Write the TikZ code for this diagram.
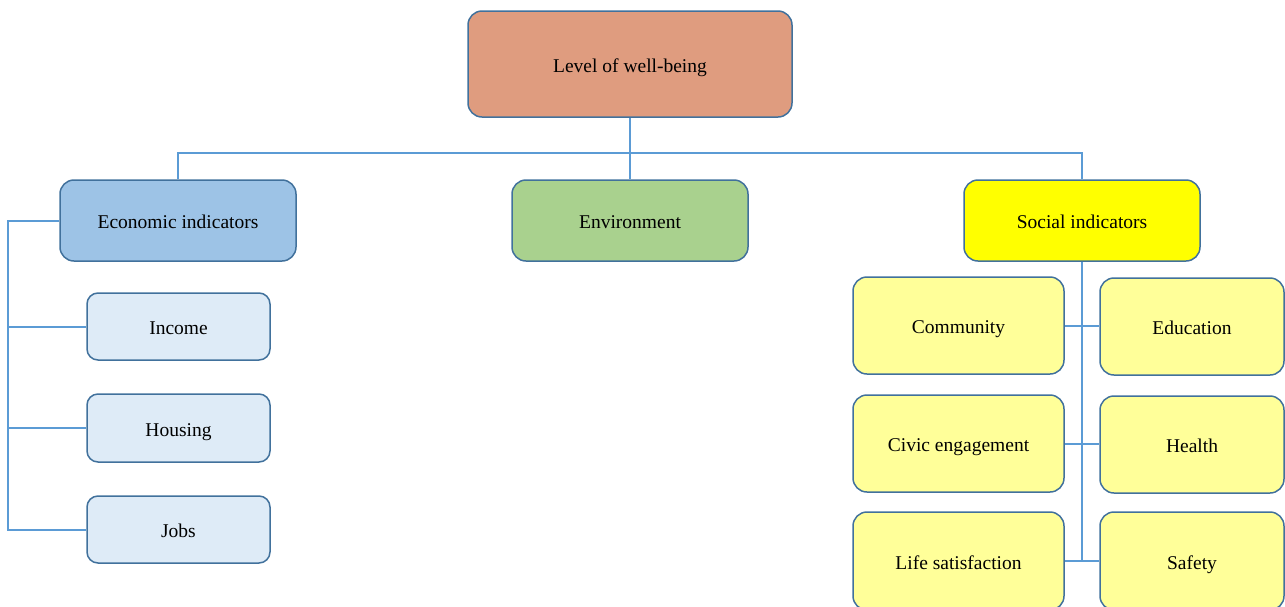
\documentclass[tikz,border=0pt]{standalone}
\usepackage{fontspec}
\setmainfont{Liberation Serif}
\definecolor{topc}{HTML}{DF9C7F}
\definecolor{econc}{HTML}{9DC3E6}
\definecolor{envc}{HTML}{A9D18E}
\definecolor{socc}{HTML}{FFFF00}
\definecolor{lblue}{HTML}{DEEBF7}
\definecolor{lyel}{HTML}{FFFF99}
\definecolor{bord}{HTML}{41719C}
\definecolor{conc}{HTML}{5B9BD5}
\tikzset{
  box/.style={draw=bord, line width=1.5pt, rounded corners=14pt, inner sep=0pt,
    text height=16pt, text depth=0pt,
    font=\fontsize{19.5}{23}\selectfont, text=black},
  smallbox/.style={box, rounded corners=11pt},
  conn/.style={draw=conc, line width=2pt}
}
\begin{document}
\begin{tikzpicture}[x=1pt,y=-1pt]
\useasboundingbox (0,0) rectangle (1285,606);
\clip (0,0) rectangle (1285,606);
% connectors
\coordinate (bus) at (630,153);
\coordinate (lx) at (8,0);
% top level
\node[box, fill=topc, minimum width=324pt, minimum height=106pt] (top) at (630,64) {Level of well-being};
% second level
\node[box, fill=econc, minimum width=236pt, minimum height=81pt] (econ) at (178,220.5) {Economic indicators};
\node[box, fill=envc, minimum width=236pt, minimum height=81pt] (env) at (630,220.5) {Environment};
\node[box, fill=socc, minimum width=236pt, minimum height=81pt] (soc) at (1082,220.5) {Social indicators};
% economic children
\node[smallbox, fill=lblue, minimum width=183pt, minimum height=67pt] (income) at (178.5,326.5) {Income};
\node[smallbox, fill=lblue, minimum width=183pt, minimum height=68pt] (housing) at (178.5,428) {Housing};
\node[smallbox, fill=lblue, minimum width=183pt, minimum height=67pt] (jobs) at (178.5,529.5) {Jobs};
% social children
\node[box, fill=lyel, minimum width=211pt, minimum height=97pt] (comm) at (958.5,325.5) {Community};
\node[box, fill=lyel, minimum width=184pt, minimum height=97pt] (edu) at (1192,326.5) {Education};
\node[box, fill=lyel, minimum width=211pt, minimum height=97pt] (civic) at (958.5,443.5) {Civic engagement};
\node[box, fill=lyel, minimum width=184pt, minimum height=97pt] (health) at (1192,444.5) {Health};
\node[box, fill=lyel, minimum width=211pt, minimum height=98pt] (life) at (958.5,561) {Life satisfaction};
\node[box, fill=lyel, minimum width=184pt, minimum height=98pt] (safety) at (1192,561) {Safety};
\draw[conn] (top.south) -- (env.north);
\draw[conn] (econ.north) -- (econ.north |- bus) -- (soc.north |- bus) -- (soc.north);
\draw[conn] (econ.west) -- (lx |- econ.west) -- (lx |- jobs.west) -- (jobs.west);
\draw[conn] (lx |- income.west) -- (income.west);
\draw[conn] (lx |- housing.west) -- (housing.west);
\draw[conn] (soc.south) -- (soc.south |- life.east);
\draw[conn] (comm.east) -- (edu.west |- comm.east);
\draw[conn] (civic.east) -- (health.west |- civic.east);
\draw[conn] (life.east) -- (safety.west);
\end{tikzpicture}
\end{document}
